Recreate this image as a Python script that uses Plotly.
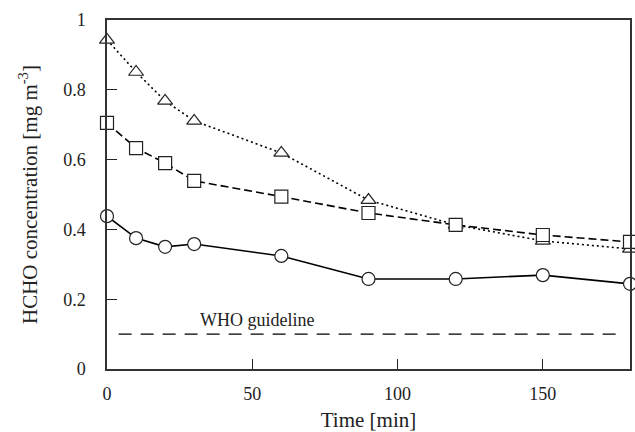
import plotly.graph_objects as go

time_min = [0, 10, 20, 30, 60, 90, 120, 150, 180]
circles = [0.438, 0.375, 0.350, 0.358, 0.324, 0.258, 0.258, 0.269, 0.244]
squares = [0.705, 0.633, 0.590, 0.539, 0.494, 0.447, 0.413, 0.384, 0.364]
triangles = [0.943, 0.851, 0.768, 0.711, 0.619, 0.484, 0.413, 0.367, 0.344]
who_x = [4, 178]
who_y = [0.1, 0.1]
who_label = "WHO guideline"

x_ticks = [0, 50, 100, 150]
y_ticks = [0, 0.2, 0.4, 0.6, 0.8, 1]
y_ticktext = ["0", "0.2", "0.4", "0.6", "0.8", "1"]

FONT = "Liberation Serif, Times New Roman, serif"

fig = go.Figure()

fig.add_trace(go.Scatter(x=who_x, y=who_y, mode="lines",
                         line=dict(color="black", width=1.2, dash="13px,9px"),
                         hoverinfo="skip"))

series = [
    (triangles, "triangle-up", "2px,3px"),
    (squares, "square", "8px,4px"),
    (circles, "circle", "solid"),
]
for vals, sym, dash in series:
    fig.add_trace(go.Scatter(
        x=time_min, y=vals, mode="lines+markers",
        line=dict(color="black", width=1.6, dash=dash),
        marker=dict(symbol=sym, size=13, color="white",
                    line=dict(color="#222", width=1.2)),
        cliponaxis=False,
    ))

fig.add_annotation(x=51.6, y=0.14, text=who_label, showarrow=False,
                   font=dict(family=FONT, size=18, color="#222"))

fig.update_layout(
    width=635, height=432,
    margin=dict(l=107, r=5, t=20, b=63),
    paper_bgcolor="white", plot_bgcolor="white",
    showlegend=False,
    font=dict(family=FONT, size=18, color="#222"),
    xaxis=dict(range=[0, 180], tickvals=x_ticks, ticks="inside", ticklen=10,
               tickcolor="#222", showline=True, linecolor="#333", linewidth=1.5,
               mirror=True, showgrid=False, zeroline=False, automargin=False,
               ticklabelstandoff=8,
               title=dict(text="Time [min]", font=dict(size=21), standoff=19)),
    yaxis=dict(range=[0, 1], tickvals=y_ticks, ticktext=y_ticktext,
               ticks="inside", ticklen=10, tickcolor="#222",
               showline=True, linecolor="#333", linewidth=1.5, mirror=True,
               showgrid=False, zeroline=False, automargin=False,
               ticklabelstandoff=16,
               title=dict(text="HCHO concentration [mg m<sup>-3</sup>]",
                          font=dict(size=21), standoff=20)),
)

fig.write_html("out.html")
